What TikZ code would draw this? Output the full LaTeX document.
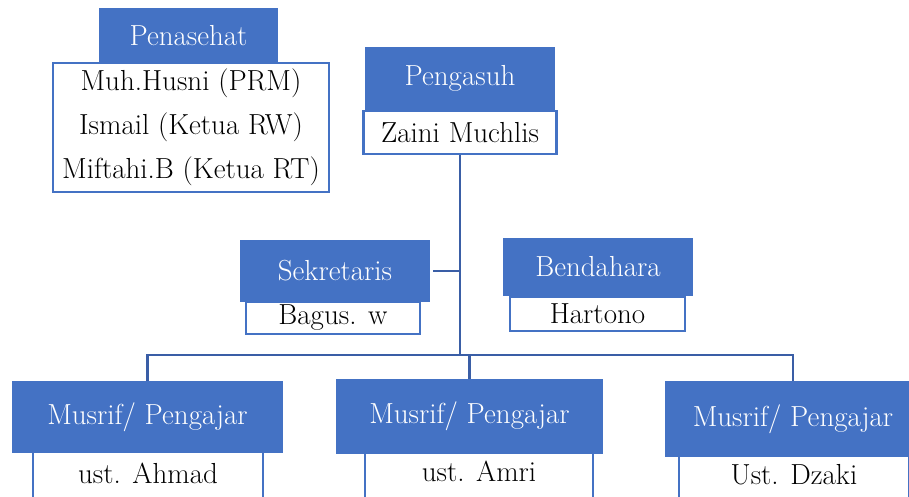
\documentclass[tikz,border=0pt]{standalone}
\usepackage{xcolor}
\usepackage{tikz}
\usetikzlibrary{positioning,calc}
\definecolor{HeadBlue}{HTML}{4472C4}
\definecolor{LineBlue}{HTML}{3A5EA6}

\begin{document}
\begin{tikzpicture}[x=1pt, y=-1pt,
  head/.style={fill=HeadBlue, text=white, inner sep=0pt, font=\fontsize{29}{32}\selectfont},
  namebox/.style={draw=HeadBlue, line width=2.2pt, fill=white, inner sep=0pt, align=center, font=\fontsize{29}{44}\selectfont},
  lowbox/.style={namebox, anchor=north, text height=32pt, text depth=30pt},
  link/.style={draw=LineBlue, line width=2.6pt}
]
  \useasboundingbox (0,0) rectangle (909,497);

  \node[namebox, minimum width=276pt, minimum height=129pt] (advisers) at (191,127.5)
    {Muh.Husni (PRM)\\Ismail (Ketua RW)\\Miftahi.B (Ketua RT)};
  \node[head, minimum width=179pt, minimum height=55pt] (penasehat) at (188.5,35.5) {Penasehat};

  \node[head, minimum width=190pt, minimum height=63pt] (pengasuh) at (460,78.5) {Pengasuh};
  \node[namebox, minimum width=193pt, minimum height=43pt, below=0pt of pengasuh] (zaini) {Zaini Muchlis};

  \node[namebox, minimum width=174pt, minimum height=32pt] (bagus) at (333,318) {Bagus. w};
  \node[head, minimum width=190pt, minimum height=62pt] (sekretaris) at (335,271) {Sekretaris};

  \node[namebox, minimum width=175pt, minimum height=34pt] (hartono) at (597.5,314) {Hartono};
  \node[head, minimum width=190pt, minimum height=58pt] (bendahara) at (598,267) {Bendahara};

  \node[lowbox, minimum width=230pt] (ahmad) at (148,450) {ust. Ahmad};
  \node[head, minimum width=271pt, minimum height=72pt] (musrifA) at (147.5,417) {Musrif/ Pengajar};

  \node[lowbox, minimum width=228pt] (amri) at (479,448) {ust. Amri};
  \node[head, minimum width=267pt, minimum height=75pt] (musrifB) at (469.5,416.5) {Musrif/ Pengajar};

  \node[lowbox, minimum width=230pt] (dzaki) at (794,451) {Ust. Dzaki};
  \node[head, minimum width=256pt, minimum height=76pt] (musrifC) at (793,419) {Musrif/ Pengajar};

  % connectors
  \coordinate (hub) at ($(zaini.south |- 0,355)$);
  \draw[link] (zaini) -- (hub);
  \draw[link] ([xshift=3pt]sekretaris.east) -- (sekretaris.east -| zaini.south);
  \draw[link] (musrifA.north) |- (hub) -| (musrifC.north);
  \draw[link] (hub) -| (musrifB.north);
\end{tikzpicture}
\end{document}
